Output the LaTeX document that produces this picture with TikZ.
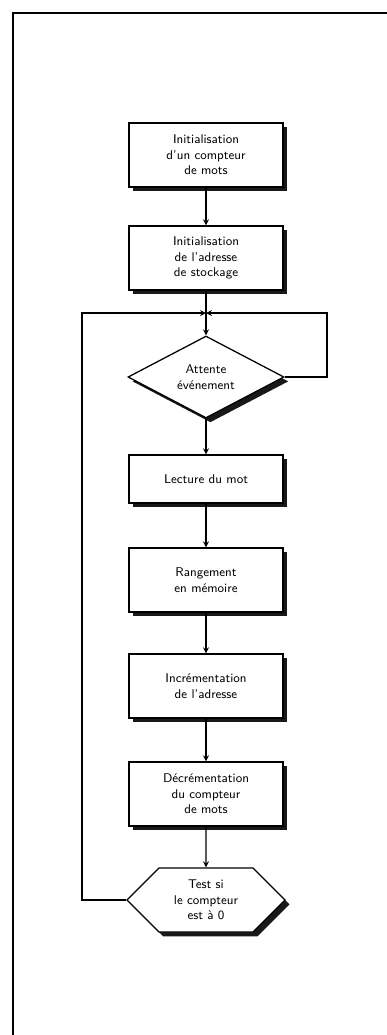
\documentclass[tikz,border=0pt]{standalone}
\usepackage{tikz}
\usetikzlibrary{shadows}
\usetikzlibrary{arrows,shapes}
\usetikzlibrary{shapes.geometric,shapes.symbols}
\usetikzlibrary{calc}
\tikzstyle{stepbox}=[rectangle,draw,line width=0.9pt,fill=white,minimum width=3.85cm,minimum height=1.6cm,inner sep=2pt,align=center,font=\sffamily\small,drop shadow={shadow xshift=0.11cm,shadow yshift=-0.11cm,fill=black,opacity=0.9}]
\tikzstyle{decision}=[diamond,draw,line width=0.9pt,fill=white,minimum width=3.9cm,minimum height=2cm,inner sep=0pt,align=center,font=\sffamily\small,drop shadow={shadow xshift=0.11cm,shadow yshift=-0.11cm,fill=black,opacity=0.9}]
\tikzstyle{testbox}=[signal,signal to=east and west,signal pointer angle=90,draw,line width=0.9pt,fill=white,minimum width=3.95cm,minimum height=1.6cm,inner sep=1pt,align=center,font=\sffamily\small,drop shadow={shadow xshift=0.11cm,shadow yshift=-0.11cm,fill=black,opacity=0.9}]
\tikzstyle{edge} = [draw,line width=0.9pt,-stealth]
\tikzstyle{undirectededge} = [draw,line width=0.9pt]
\begin{document}
\begin{tikzpicture}[x=0.025cm,y=-0.025cm]
    \useasboundingbox (0,0) rectangle (387,1035);
    \draw[line width=1.3pt] (387,13) -- (13,13) -- (13,1035);

    \foreach \pos/ \name/ \txt in {{(206,155)/init/{Initialisation\\d'un compteur\\de mots}},
        {(206,258)/adr/{Initialisation\\de l'adresse\\de stockage}},
        {(206,580)/rang/{Rangement\\en mémoire}},
        {(206,686)/incr/{Incrémentation\\de l'adresse}},
        {(206,794)/decr/{Décrémentation\\du compteur\\de mots}}}
        \node[stepbox] (\name) at \pos {\txt};
    \node[stepbox,minimum height=1.2cm] (lect) at (206,479) {Lecture du mot};
    \node[decision] (att) at (206,377) {Attente\\événement};
    \node[testbox] (test) at (206,900) {Test si\\le compteur\\est à 0};

    \coordinate (jonc) at (206,313);
    \coordinate (ghaut) at (82,313);
    \coordinate (dhaut) at (327,313);

    % liaisons principales
    \foreach \source/ \dest in {init/adr, att/lect, lect/rang, rang/incr, incr/decr, decr/test}
        \path[edge] (\source) -- (\dest);
    \path[undirectededge] (adr) -- (jonc);
    \path[edge] (jonc) -- (att);

    % boucles
    \path[edge] (test.west) -| (ghaut) -- (jonc);
    \path[edge] (att.east) -| (dhaut) -- (jonc);
\end{tikzpicture}
\end{document}
